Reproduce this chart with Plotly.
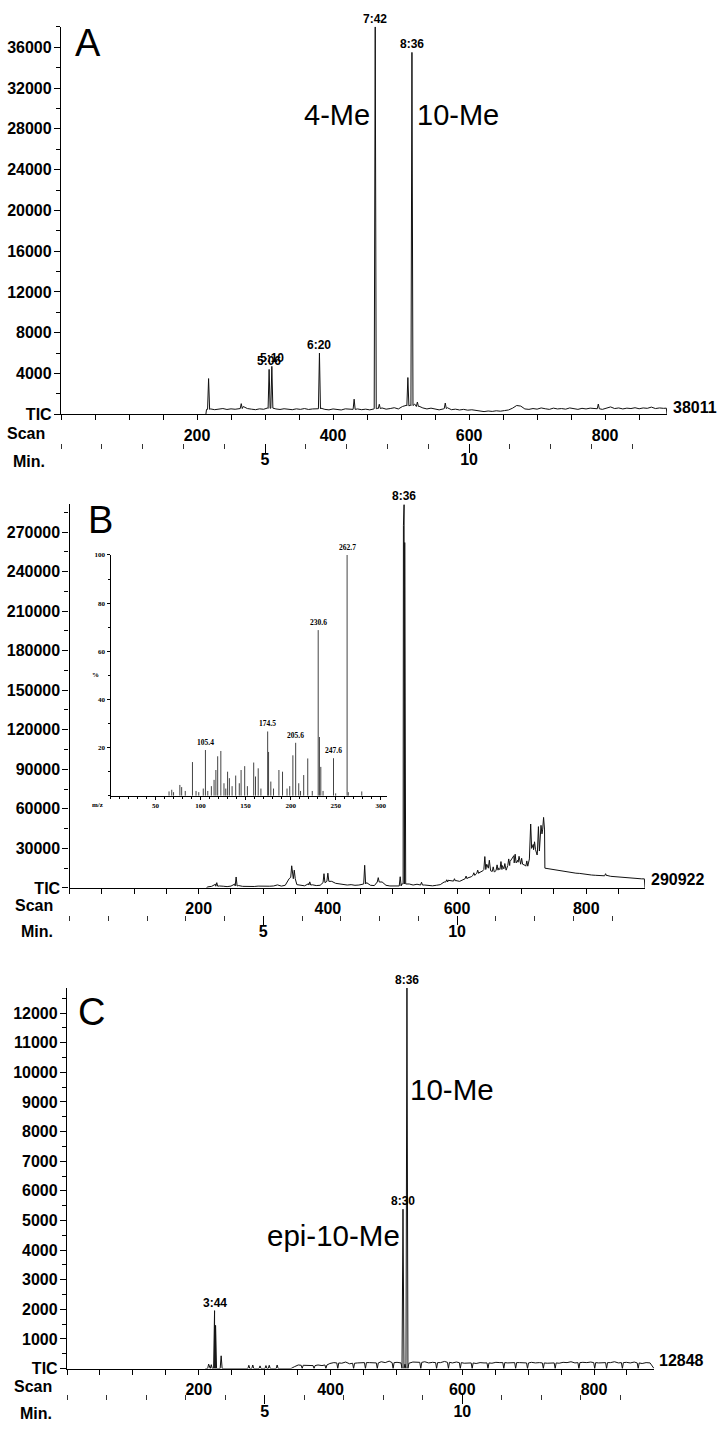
import plotly.graph_objects as go

W, H = 724, 1438
SANS = "Liberation Sans, Arial, sans-serif"
SERIF = "Liberation Serif, Times New Roman, serif"
SCAN_MAX = 891
SCANS_PER_MIN = 60
BASE_STEP = 6

# ---------------- panel A ----------------
A_FULL = 38011
A_BASE_START = 214
A_BASE = [
    480, 520, 450, 510, 560, 470, 530, 490, 600, 760,
    560, 500, 450, 530, 490, 620, 640, 520, 470, 540,
    500, 450, 530, 480, 560, 470, 520, 560, 600, 480,
    430, 520, 470, 420, 530, 480, 560, 520, 450, 500,
    430, 520, 600, 620, 500, 560, 640, 520, 760, 880,
    900, 1000, 800, 620, 520, 600, 480, 430, 520, 640,
    450, 500, 420, 480, 400, 440, 370, 300, 260, 320,
    280, 340, 300, 360, 420, 600, 860, 800, 520, 480,
    560, 500, 620, 540, 480, 600, 520, 560, 500, 620,
    540, 480, 580, 520, 600, 540, 560, 480, 600, 720,
    560, 620, 520, 600, 560, 640, 540, 620, 580, 700,
    560, 620, 580,
]
A_EDGE_SCANS = [213, 890, 891]
A_EDGE_TIC = [0, 600, 0]
A_PEAK_SCANS = [217, 265, 306, 310, 380, 431, 462, 468, 510, 516, 524, 565, 790]
A_PEAK_TOP = [3500, 1040, 4400, 4700, 6000, 1480, 38011, 980, 3600, 35500, 1200, 1100, 1000]
A_PEAK_FOOT = [480, 560, 580, 600, 540, 480, 540, 560, 820, 850, 760, 560, 540]
A_LABEL_TEXT = ["5:06", "5:10", "6:20", "7:42", "8:36"]
A_LABEL_SCANS = [306, 310, 380, 462, 516]
A_LABEL_TIC = [4400, 4700, 6000, 38011, 35500]

# ---------------- panel B ----------------
B_FULL = 290922
B_BASE_START = 214
B_BASE = [
    800, 1200, 2800, 1500, 1300, 1000, 1400, 3000, 1800, 1200,
    1000, 1300, 1100, 1400, 1200, 1000, 1300, 1500, 2300, 1400,
    2000, 7000, 9500, 2500, 1800, 1600, 3200, 2400, 1800, 2000,
    6000, 5500, 5000, 3500, 3000, 2600, 2200, 2500, 2000, 2200,
    3000, 4000, 2000, 1800, 6000, 4500, 2000, 1500, 1300, 1600,
    3000, 2500, 3000, 2200, 2800, 3500, 2200, 1800, 1600, 2000,
    2500, 4500, 5800, 5200, 5600, 5000, 6500, 7500, 8500, 10000,
    11500, 13000, 18000, 13000, 12000, 15000, 17000, 13500, 20000, 24500,
    21000, 19000, 17000, 22000, 33000, 25000, 42000, 15000, 14500, 14000,
    13500, 12800, 12500, 12000, 11800, 11200, 11000, 10500, 10000, 9800,
    9600, 9300, 9000, 9500, 8800, 8500, 8300, 8000, 7800, 7600,
    7300, 7100, 6900,
]
B_EDGE_SCANS = [212, 890, 891]
B_EDGE_TIC = [0, 6900, 0]
B_PEAK_SCANS = [228, 258, 344, 348, 372, 394, 400, 457, 478, 512, 517, 518, 519,
                545, 584, 596, 614, 626, 632, 643, 650, 656, 662, 668, 674, 680,
                690, 696, 700, 708, 714, 720, 726, 730, 734, 830]
B_PEAK_TOP = [4000, 8300, 16800, 13500, 4600, 10800, 11200, 17200, 7800, 8500, 275000, 290922, 262000,
              4300, 6200, 7000, 9000, 11500, 13500, 23800, 21000, 16000, 17500, 20000, 18500, 22000,
              25600, 24000, 22500, 20500, 48500, 35000, 46500, 47500, 53500, 10800]
B_PEAK_FOOT = [1300, 1500, 8000, 7000, 2200, 4000, 5000, 3000, 4500, 1500, 3000, 3000, 3000,
               2200, 4500, 5200, 7000, 9500, 11000, 14000, 15000, 12500, 13500, 14000, 14500, 17000,
               19000, 19500, 18000, 16500, 30000, 29000, 28000, 41000, 44000, 9200]
B_LABEL_TEXT = ["8:36"]
B_LABEL_SCANS = [518]
B_LABEL_TIC = [290922]

# inset mass spectrum (m/z, relative %)
INSET_MZ = [65, 68, 70, 77, 79, 83, 91, 95, 98, 103,
            105.4, 108, 112, 115, 117, 119, 122.5, 126, 128, 130,
            132, 135, 139, 143, 145, 149, 152, 159, 161, 164,
            167, 174.5, 175.5, 178, 181, 187, 191, 196, 199, 202.5,
            205.6, 209, 211, 214.5, 219, 224, 230.6, 232, 233.5, 236,
            247.6, 250, 262.7, 264, 279]
INSET_PCT = [1.8, 2.5, 1.5, 4.5, 3.6, 2.0, 14.0, 2.0, 1.5, 3.0,
             19.0, 2.0, 4.0, 6.6, 10.7, 16.4, 18.6, 5.2, 3.0, 10.0,
             7.3, 4.0, 8.4, 5.2, 10.7, 12.3, 4.0, 13.8, 8.0, 11.4,
             3.0, 26.7, 18.2, 5.9, 3.0, 10.7, 10.0, 3.0, 4.0, 16.8,
             22.0, 5.2, 2.0, 8.6, 15.5, 2.0, 68.8, 24.4, 12.0, 2.0,
             15.6, 1.0, 100, 1.5, 1.8]
INSET_LABELS = ["105.4", "174.5", "205.6", "230.6", "247.6", "262.7"]
INSET_MZ_MAX = 307

# ---------------- panel C ----------------
C_FULL = 12848
C_BASE_START = 345
C_BASE = [
    60, 120, 100, 110, 90, 110, 120, 100, 130, 170,
    200, 190, 180, 220, 160, 200, 190, 210, 190, 200,
    180, 200, 230, 200, 250, 210, 210, 190, 150, 180,
    220, 200, 210, 230, 190, 210, 200, 200, 240, 200,
    190, 220, 200, 180, 200, 190, 170, 200, 190, 180,
    180, 210, 200, 190, 190, 210, 200, 200, 180, 190,
    210, 190, 200, 190, 180, 200, 190, 180, 210, 200,
    230, 190, 200, 210, 200, 220, 200, 190, 210, 190,
    200, 230, 190, 200, 210, 190, 220, 200, 170, 200,
    190,
]
C_EDGE_SCANS = [210, 340, 891]
C_EDGE_TIC = [0, 0, 0]
C_PEAK_SCANS = [215, 219, 224, 225.5, 234, 276, 282, 293, 302, 307, 319, 510, 516]
C_PEAK_TOP = [150, 130, 1955, 1460, 430, 110, 120, 90, 100, 110, 120, 5380, 12848]
C_PEAK_FOOT = [0, 0, 0, 0, 0, 0, 0, 0, 0, 0, 0, 0, 0]
# narrow drops of the baseline to zero
C_DIP_SCANS = [357, 375, 393, 411, 435, 453, 471, 495, 537, 561, 579, 597,
               615, 639, 663, 681, 699, 723, 741, 777, 801, 819, 843, 867]
C_DIP_FOOT = [110, 100, 120, 190, 180, 200, 190, 200, 210, 200, 210, 200,
              190, 190, 200, 200, 190, 190, 190, 200, 200, 200, 200, 190]
C_LABEL_TEXT = ["3:44", "8:30", "8:36"]
C_LABEL_SCANS = [224, 510, 516]
C_LABEL_TIC = [1955, 5380, 12848]


def px(x):
    return x / W


def py(y):
    return 1 - y / H


def chromatogram(base_start, base, edge_s, edge_v, pk_s, pk_top, pk_foot, half=1.5):
    pts = []
    for i, v in enumerate(base):
        s = base_start + i * BASE_STEP
        if all(abs(s - p) >= 2 for p in pk_s):
            pts.append((s, v))
    pts += list(zip(edge_s, edge_v))
    for s, t, f in zip(pk_s, pk_top, pk_foot):
        pts += [(s - half, f), (s, t), (s + half, f)]
    pts.sort(key=lambda p: p[0])
    return [p[0] for p in pts], [p[1] for p in pts]


TICKFONT = dict(family=SANS, size=16, color="black", weight="bold")
LINE = dict(color="#111", width=1)

fig = go.Figure()

panels = [
    ("x", "y", A_BASE_START, A_BASE, A_EDGE_SCANS, A_EDGE_TIC,
     A_PEAK_SCANS, A_PEAK_TOP, A_PEAK_FOOT),
    ("x2", "y2", B_BASE_START, B_BASE, B_EDGE_SCANS, B_EDGE_TIC,
     B_PEAK_SCANS, B_PEAK_TOP, B_PEAK_FOOT),
    ("x3", "y3", C_BASE_START, C_BASE, C_EDGE_SCANS, C_EDGE_TIC,
     C_PEAK_SCANS + C_DIP_SCANS, C_PEAK_TOP + [0] * len(C_DIP_SCANS), C_PEAK_FOOT + C_DIP_FOOT),
]
for xa, ya, start, base, es, ev, ps, pt, pf in panels:
    xs, ys = chromatogram(start, base, es, ev, ps, pt, pf)
    fig.add_trace(go.Scatter(x=xs, y=ys, mode="lines", line=LINE, xaxis=xa, yaxis=ya,
                             showlegend=False, hoverinfo="skip"))

# inset stick spectrum
sx, sy = [], []
for m, p in zip(INSET_MZ, INSET_PCT):
    sx += [m, m, None]
    sy += [0, p, None]
fig.add_trace(go.Scatter(x=sx, y=sy, mode="lines", line=dict(color="#444", width=1),
                         xaxis="x4", yaxis="y4", showlegend=False, hoverinfo="skip"))

# dummy traces so the minute axes get drawn
for xa, ya in [("x5", "y"), ("x6", "y2"), ("x7", "y3")]:
    fig.add_trace(go.Scatter(x=[], y=[], xaxis=xa, yaxis=ya, showlegend=False, hoverinfo="skip"))


def scan_axis(x0, x1, anchor):
    return dict(domain=[px(x0), px(x1)], anchor=anchor, range=[0, SCAN_MAX],
                showgrid=False, zeroline=False, showline=True, linecolor="black", linewidth=1.3,
                ticks="outside", ticklen=5, tickwidth=1, tickcolor="black",
                tickvals=[200, 400, 600, 800], tickfont=TICKFONT, ticklabelstandoff=1,
                minor=dict(tickmode="linear", tick0=0, dtick=50, ticks="outside", ticklen=5,
                           tickwidth=1, tickcolor="black"))


def tic_axis(y0, y1, anchor, full, step, minor_step, top_label):
    vals = list(range(0, top_label + 1, step))
    text = ["TIC"] + [str(v) for v in vals[1:]]
    return dict(domain=[py(y0), py(y1)], anchor=anchor, range=[0, full],
                showgrid=False, zeroline=False, showline=True, linecolor="black", linewidth=1.3,
                ticks="outside", ticklen=6, tickwidth=1, tickcolor="black",
                tickmode="array", tickvals=vals, ticktext=text, tickfont=TICKFONT,
                ticklabelstandoff=-1,
                minor=dict(tickmode="linear", tick0=0, dtick=minor_step, ticks="outside",
                           ticklen=4, tickwidth=1, tickcolor="black"))


def min_axis(overlay, y_pos):
    return dict(overlaying=overlay, anchor="free", position=py(y_pos), side="bottom",
                range=[0, SCAN_MAX / SCANS_PER_MIN], showgrid=False, zeroline=False, showline=False,
                tickmode="array", tickvals=[5, 10], ticks="outside", ticklen=9, tickwidth=1,
                tickcolor="black", tickfont=TICKFONT, ticklabelstandoff=-7,
                minor=dict(tickmode="linear", tick0=0, dtick=1, ticks="outside", ticklen=5,
                           tickwidth=1, tickcolor="#333"))


INSET_FONT = dict(family=SERIF, size=7, color="black", weight="bold")

fig.update_layout(
    width=W, height=H, autosize=False,
    margin=dict(l=0, r=0, t=0, b=0),
    paper_bgcolor="white", plot_bgcolor="rgba(0,0,0,0)",
    xaxis=scan_axis(61, 667, "y"),
    yaxis=tic_axis(414, 23, "x", A_FULL, 4000, 2000, 36000),
    xaxis2=scan_axis(69.5, 645, "y2"),
    yaxis2=tic_axis(892, 505, "x2", B_FULL, 30000, 15000, 270000),
    xaxis3=scan_axis(67, 654, "y3"),
    yaxis3=tic_axis(1377, 993, "x3", C_FULL, 1000, 500, 12000),
    xaxis4=dict(domain=[px(110.5), px(387)], anchor="y4", range=[0, INSET_MZ_MAX],
                showgrid=False, zeroline=False, showline=True, linecolor="black", linewidth=1,
                ticks="outside", ticklen=3, tickwidth=1, tickcolor="black",
                tickmode="array", tickvals=[50, 100, 150, 200, 250, 300], tickfont=INSET_FONT,
                ticklabelstandoff=0,
                minor=dict(tickmode="linear", tick0=0, dtick=10, ticks="outside", ticklen=2,
                           tickwidth=1, tickcolor="black")),
    yaxis4=dict(domain=[py(799), py(556)], anchor="x4", range=[0, 100],
                showgrid=False, zeroline=False, showline=True, linecolor="black", linewidth=1,
                ticks="outside", ticklen=3, tickwidth=1, tickcolor="black",
                tickmode="array", tickvals=[20, 40, 60, 80, 100], tickfont=INSET_FONT,
                ticklabelstandoff=0,
                minor=dict(tickmode="linear", tick0=0, dtick=10, ticks="outside", ticklen=2,
                           tickwidth=1, tickcolor="black")),
    xaxis5=min_axis("x", 443),
    xaxis6=min_axis("x2", 919),
    xaxis7=min_axis("x3", 1403),
)


def note(text, x, y, size, xanchor="center", yanchor="middle", xref="paper", yref="paper",
         bold=True, family=SANS, xshift=0, yshift=0):
    fig.add_annotation(text=text, x=x, y=y, xref=xref, yref=yref, showarrow=False,
                       xanchor=xanchor, yanchor=yanchor, xshift=xshift, yshift=yshift,
                       font=dict(family=family, size=size, color="black",
                                 weight="bold" if bold else "normal"))


# peak time labels
for xa, ya, texts, scans, tics in [
    ("x", "y", A_LABEL_TEXT, A_LABEL_SCANS, A_LABEL_TIC),
    ("x2", "y2", B_LABEL_TEXT, B_LABEL_SCANS, B_LABEL_TIC),
    ("x3", "y3", C_LABEL_TEXT, C_LABEL_SCANS, C_LABEL_TIC),
]:
    for t, s, v in zip(texts, scans, tics):
        note(t, s, v, 12, yanchor="bottom", xref=xa, yref=ya, yshift=-1)

# inset peak labels
for t in INSET_LABELS:
    i = INSET_MZ.index(float(t))
    note(t, INSET_MZ[i], INSET_PCT[i], 7.5, yanchor="bottom", xref="x4", yref="y4",
         family=SERIF, yshift=1)
note("%", px(95), py(677), 7, family=SERIF)
note("m/z", px(97.5), py(808), 7, family=SERIF)

# compound names
note("4-Me", 462, 29400, 29, xanchor="right", xref="x", yref="y", bold=False, xshift=-3)
note("10-Me", 516, 29400, 29, xanchor="left", xref="x", yref="y", bold=False, xshift=3)
note("10-Me", 516, 9430, 29.5, xanchor="left", xref="x3", yref="y3", bold=False, xshift=1)
note("epi-10-Me", 510, 4480, 29.5, xanchor="right", xref="x3", yref="y3", bold=False, xshift=-1)

# panel letters
note("A", px(88), py(39), 38, bold=False)
note("B", px(100), py(521), 38, bold=False)
note("C", px(91), py(1017), 38, bold=False)

# full-scale values at right
note("38011", px(719), py(407), 16, xanchor="right")
note("290922", px(706), py(883), 16, xanchor="right")
note("12848", px(706), py(1369), 16, xanchor="right")

# row captions
for yy_scan, yy_min, xr in [(433, 462, 47), (910, 936, 55), (1395, 1422, 54)]:
    note("Scan", px(xr), py(yy_scan), 16, xanchor="right")
    note("Min.", px(xr), py(yy_min), 16, xanchor="right")

# page body margin would push the fixed-size figure off the window
fig.write_html("out.html", config={"displayModeBar": False},
               post_script="document.body.style.margin='0';")
